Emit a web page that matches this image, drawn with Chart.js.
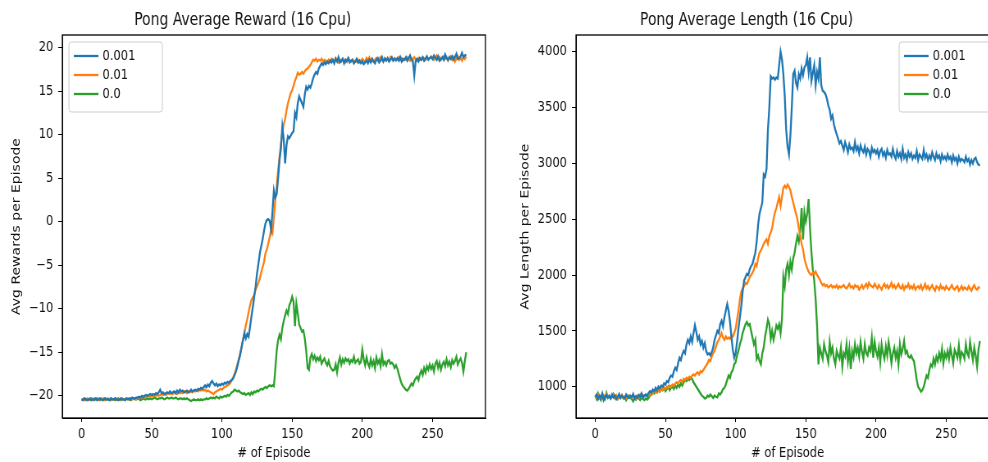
<!DOCTYPE html>
<html>
<head>
<meta charset="utf-8">
<script src="https://cdn.jsdelivr.net/npm/chart.js@4.4.0/dist/chart.umd.min.js"></script>
<style>
  html, body { margin: 0; padding: 0; background: #fff; overflow: hidden; width: 988px; height: 462px; }
  canvas { position: absolute; top: 0; transform-origin: 0 0; transform: scaleX(0.82); }
</style>
</head>
<body>
<canvas id="rewardChart" width="602" height="462" style="left:0"></canvas>
<canvas id="lengthChart" width="628" height="462" style="left:494px"></canvas>
<script>
// learning rates (legend labels)
const seriesLabels = ['0.001', '0.01', '0.0'];
const seriesColors = ['#1f77b4', '#ff7f0e', '#2ca02c'];

const episodes = Array.from({ length: 275 }, (_, i) => i);
const xTicks = [0, 50, 100, 150, 200, 250];
const rewardTicks = [-20, -15, -10, -5, 0, 5, 10, 15, 20];
const lengthTicks = [1000, 1500, 2000, 2500, 3000, 3500, 4000];

// Avg reward per episode
const reward001 = [
  -20.4,-20.5,-20.3,-20.4,-20.5,-20.4,-20.3,-20.5,-20.4,-20.4,-20.3,-20.5,-20.4,-20.3,-20.4,-20.5,-20.4,-20.3,-20.4,-20.4,-20.5,-20.3,-20.4,-20.4,-20.3,
  -20.4,-20.5,-20.4,-20.3,-20.4,-20.4,-20.5,-20.3,-20.4,-20.3,-20.4,-20.2,-20.3,-20.3,-20.2,-20.2,-20.1,-20.2,-20.0,-20.1,-20.0,-19.9,-20.0,-19.9,-19.8,
  -19.9,-19.8,-19.9,-19.7,-19.8,-19.6,-19.3,-19.7,-19.6,-19.8,-19.7,-19.6,-19.7,-19.5,-19.7,-19.6,-19.5,-19.7,-19.4,-19.6,-19.3,-19.5,-19.4,-19.6,-19.5,
  -19.4,-19.6,-19.5,-19.3,-19.5,-19.4,-19.3,-19.4,-19.2,-19.3,-19.1,-19.2,-19.0,-18.8,-19.0,-18.7,-18.9,-18.5,-18.3,-18.6,-18.8,-18.6,-18.9,-18.7,-18.8,
  -18.6,-18.7,-18.5,-18.6,-18.4,-18.5,-18.3,-18.2,-18.0,-17.6,-17.2,-16.6,-15.9,-15.3,-14.4,-13.6,-12.8,-13.4,-12.9,-13.2,-12.1,-10.9,-9.8,-8.6,-7.4,
  -5.9,-4.8,-3.6,-2.8,-2.0,-1.0,-0.2,0.2,0.3,0.1,-0.9,1.2,3.6,2.8,3.2,5.0,7.1,8.4,10.9,9.5,6.7,8.8,9.8,9.6,9.9,
  10.2,10.4,12.5,12.0,13.6,14.4,14.0,13.6,13.2,14.6,15.5,15.2,15.6,15.4,15.9,16.5,16.9,17.2,17.0,17.6,17.9,18.2,18.0,18.3,18.1,
  18.4,18.2,18.5,18.3,18.6,18.2,18.7,18.4,18.9,18.3,18.5,18.7,18.2,18.6,18.4,18.8,18.3,18.5,18.6,18.2,18.4,18.7,18.3,18.5,18.2,
  18.4,18.1,18.3,18.5,18.2,18.6,18.3,18.7,18.4,18.2,18.6,18.8,18.3,18.5,18.9,18.4,18.7,18.5,18.8,18.4,18.6,18.9,18.5,18.7,18.6,
  18.8,18.5,18.9,18.4,18.7,18.6,18.9,18.5,18.8,19.1,18.6,18.4,16.8,18.5,18.7,18.4,18.8,18.6,18.9,18.5,18.7,19.0,18.6,18.8,18.9,
  18.7,19.1,18.8,18.6,19.0,18.5,18.7,18.9,18.6,19.2,18.8,18.6,18.9,18.7,19.0,18.6,18.9,19.3,18.7,18.8,19.0,19.4,18.9,19.1,19.2
];
const reward01 = [
  -20.5,-20.4,-20.5,-20.4,-20.3,-20.5,-20.4,-20.4,-20.5,-20.3,-20.4,-20.4,-20.5,-20.4,-20.3,-20.4,-20.5,-20.4,-20.4,-20.3,-20.4,-20.5,-20.4,-20.4,-20.3,
  -20.4,-20.4,-20.5,-20.4,-20.3,-20.4,-20.4,-20.3,-20.4,-20.4,-20.3,-20.4,-20.3,-20.3,-20.4,-20.2,-20.3,-20.2,-20.2,-20.1,-20.2,-20.1,-20.1,-20.0,-20.1,
  -20.0,-20.1,-19.9,-20.0,-19.9,-20.0,-19.9,-19.8,-19.9,-19.8,-19.9,-19.8,-19.7,-19.8,-19.7,-19.8,-19.6,-19.7,-19.8,-19.6,-19.7,-19.6,-19.7,-19.5,-19.6,
  -19.7,-19.5,-19.6,-19.5,-19.6,-19.4,-19.5,-19.4,-19.5,-19.3,-19.4,-19.3,-19.4,-19.3,-19.5,-19.4,-19.5,-19.6,-19.7,-19.8,-19.6,-19.5,-19.4,-19.3,-19.2,
  -19.3,-19.1,-19.0,-18.9,-18.8,-18.7,-18.5,-18.2,-17.9,-17.5,-17.0,-16.4,-15.8,-15.1,-14.4,-13.6,-12.8,-11.9,-11.2,-10.4,-9.6,-9.0,-8.7,-8.4,-7.8,
  -7.4,-7.0,-6.5,-5.8,-5.2,-4.6,-3.6,-3.2,-2.5,-1.8,-0.9,-1.3,0.5,2.5,4.0,5.8,7.4,9.0,10.2,11.2,11.8,12.8,13.6,14.2,14.8,
  15.1,15.6,16.2,16.6,17.1,16.9,17.0,17.2,17.0,17.3,17.5,17.6,17.8,18.0,18.3,18.6,18.5,18.7,18.4,18.6,18.5,18.7,18.4,18.6,18.5,
  18.3,18.6,18.4,18.7,18.5,18.4,18.8,18.5,18.3,18.6,18.4,18.7,18.5,18.3,18.6,18.8,18.5,18.4,18.6,18.2,18.5,18.4,18.6,18.3,18.5,
  18.7,18.5,18.4,18.8,18.6,18.9,18.5,18.7,18.4,18.6,18.8,18.5,18.7,18.9,18.6,18.4,18.8,18.6,18.7,18.5,18.9,18.7,18.6,18.8,18.5,
  18.7,18.9,18.6,18.8,18.5,18.7,18.6,18.9,18.7,18.5,18.8,18.6,18.9,18.7,18.5,18.8,18.6,18.7,18.9,18.8,18.6,18.9,18.7,18.8,19.0,
  18.8,18.6,18.9,19.1,18.7,18.9,18.6,18.8,19.0,18.7,18.9,18.5,18.8,19.0,18.6,18.9,18.4,18.7,19.0,18.6,18.8,18.5,18.9,18.7,19.0
];
const reward0 = [
  -20.5,-20.4,-20.3,-20.5,-20.4,-20.4,-20.5,-20.3,-20.4,-20.5,-20.4,-20.3,-20.4,-20.5,-20.4,-20.4,-20.3,-20.5,-20.4,-20.4,-20.5,-20.3,-20.4,-20.4,-20.5,
  -20.4,-20.3,-20.4,-20.5,-20.4,-20.4,-20.5,-20.3,-20.4,-20.4,-20.5,-20.4,-20.3,-20.4,-20.4,-20.3,-20.4,-20.5,-20.4,-20.3,-20.4,-20.4,-20.3,-20.4,-20.3,
  -20.4,-20.3,-20.2,-20.3,-20.4,-20.3,-20.3,-20.2,-20.3,-20.4,-20.3,-20.2,-20.3,-20.3,-20.2,-20.3,-20.3,-20.2,-20.3,-20.4,-20.3,-20.3,-20.4,-20.3,-20.4,
  -20.3,-20.4,-20.5,-20.6,-20.5,-20.4,-20.5,-20.5,-20.4,-20.5,-20.4,-20.5,-20.4,-20.4,-20.3,-20.4,-20.3,-20.2,-20.3,-20.2,-20.3,-20.1,-20.2,-20.3,-20.1,
  -20.2,-20.1,-20.0,-20.1,-19.9,-20.0,-19.8,-19.6,-19.5,-19.3,-19.4,-19.5,-19.4,-19.6,-19.7,-19.8,-19.7,-19.9,-19.8,-19.7,-19.9,-19.6,-19.8,-19.5,-19.6,
  -19.4,-19.5,-19.3,-19.2,-19.3,-19.1,-19.0,-19.1,-18.9,-18.8,-18.9,-18.8,-18.9,-17.0,-14.8,-13.6,-13.0,-13.5,-12.2,-11.4,-10.8,-10.2,-10.6,-9.6,-9.2,
  -8.6,-9.2,-12.0,-9.4,-10.5,-11.8,-12.2,-12.6,-12.5,-13.4,-14.8,-16.8,-17.0,-15.6,-15.2,-15.8,-15.4,-16.0,-15.6,-15.9,-15.5,-16.3,-16.0,-15.7,-16.2,
  -16.5,-16.0,-16.6,-16.9,-17.1,-17.0,-16.4,-17.3,-16.2,-15.6,-16.4,-15.8,-16.2,-15.7,-16.0,-15.8,-16.3,-15.9,-16.1,-15.5,-16.2,-16.0,-15.8,-16.3,-16.1,
  -14.7,-15.8,-16.5,-15.6,-16.3,-16.7,-15.8,-16.5,-16.0,-16.8,-15.6,-16.3,-15.9,-16.6,-15.2,-16.4,-16.1,-16.5,-16.0,-15.9,-16.3,-16.2,-16.4,-16.8,-16.5,
  -16.9,-17.5,-18.1,-18.6,-18.9,-19.1,-19.3,-19.4,-19.2,-18.9,-18.6,-18.8,-18.3,-18.0,-17.8,-18.2,-17.5,-17.1,-17.6,-16.8,-17.3,-16.6,-17.0,-16.4,-16.9,
  -16.5,-17.2,-16.3,-16.0,-16.8,-16.2,-17.0,-16.4,-16.1,-16.6,-15.8,-16.5,-16.1,-16.7,-15.9,-16.3,-16.0,-15.5,-16.4,-16.0,-15.7,-16.2,-17.2,-16.0,-15.0
];

// Avg length per episode
const length001 = [
  910,930,890,920,900,940,880,910,925,900,915,895,930,905,920,890,910,935,900,920,905,895,930,910,900,
  920,905,935,895,915,900,925,910,940,905,920,930,915,945,960,950,975,960,990,970,1000,985,1010,1000,1030,
  1020,1050,1040,1080,1100,1090,1140,1170,1150,1210,1260,1240,1290,1320,1300,1380,1420,1390,1450,1400,1480,1550,1490,1420,1450,
  1380,1410,1350,1390,1320,1290,1300,1280,1310,1350,1420,1460,1500,1480,1560,1590,1540,1620,1680,1740,1680,1580,1450,1330,1260,
  1300,1400,1520,1620,1720,1850,1950,1980,2010,2000,2050,2080,2100,2150,2200,2300,2450,2550,2600,2650,2900,2880,2950,3300,3500,
  3780,3760,3770,3750,3770,3760,3880,4000,3930,3800,3600,3300,3150,3080,3250,3500,3800,3830,3720,3680,3800,3760,3850,3790,3860,
  3880,3950,3820,3950,3740,3810,3880,3700,3820,3760,3950,3700,3650,3640,3620,3580,3520,3480,3400,3430,3350,3300,3260,3220,3180,
  3200,3160,3120,3190,3150,3100,3170,3130,3140,3110,3190,3120,3150,3090,3160,3120,3100,3150,3080,3130,3110,3060,3140,3100,3120,
  3090,3120,3060,3110,3130,3070,3100,3050,3120,3080,3090,3060,3130,3070,3040,3110,3060,3090,3040,3130,3050,3080,3030,3100,3060,
  3090,3040,3070,3050,3110,3030,3080,3060,3040,3120,3050,3080,3030,3070,3040,3100,3060,3030,3090,3050,3070,3020,3080,3040,3060,
  3030,3080,3040,3060,3010,3070,3030,3050,3000,3060,3020,3040,3030,3010,3060,3020,3040,2990,3030,3000,3040,3050,3010,2990,2980
];
const length01 = [
  920,905,930,900,915,895,925,910,935,905,920,900,915,930,905,920,895,915,905,925,900,910,895,920,905,
  915,900,925,910,895,920,905,930,910,925,915,930,920,940,925,950,940,960,950,945,970,960,980,970,990,
  980,1000,990,1010,1000,1020,1010,1030,1040,1030,1050,1060,1040,1070,1060,1080,1070,1090,1080,1100,1110,1100,1120,1130,1110,
  1140,1130,1150,1170,1190,1210,1240,1230,1270,1300,1320,1360,1400,1420,1450,1480,1440,1420,1450,1430,1440,1430,1460,1450,1480,
  1520,1600,1680,1780,1850,1880,1900,1930,1920,1950,1980,2000,2020,2050,2100,2080,2150,2200,2220,2250,2280,2300,2320,2280,2350,
  2380,2420,2500,2560,2600,2650,2700,2620,2700,2780,2800,2780,2810,2790,2760,2700,2650,2600,2550,2500,2420,2350,2280,2230,2150,
  2100,2060,2030,2010,2000,2020,2010,2030,2000,1980,1960,1930,1910,1920,1900,1910,1890,1900,1910,1890,1900,1890,1910,1880,1900,
  1890,1900,1910,1890,1880,1900,1920,1890,1900,1880,1910,1895,1900,1870,1890,1910,1880,1900,1920,1890,1930,1910,1900,1890,1920,
  1900,1880,1910,1890,1870,1900,1920,1890,1910,1880,1900,1930,1890,1910,1880,1900,1920,1890,1880,1910,1870,1900,1890,1920,1880,
  1900,1880,1910,1870,1890,1900,1880,1910,1870,1890,1920,1880,1900,1870,1890,1910,1880,1860,1900,1890,1870,1910,1880,1890,1870,
  1900,1880,1870,1890,1910,1880,1870,1890,1900,1860,1880,1900,1870,1890,1880,1870,1900,1880,1860,1890,1910,1880,1870,1890,1885
];
const length0 = [
  920,890,940,900,880,930,910,890,945,905,920,895,910,935,900,920,890,910,900,925,895,910,880,905,920,
  900,890,870,900,885,910,895,880,900,890,880,895,885,900,920,930,950,940,960,950,970,955,980,970,990,
  960,980,1000,970,990,1000,980,1010,990,1020,1000,1030,1010,1040,1060,1050,1070,1060,1080,1070,1040,1020,1000,980,960,
  940,920,910,895,900,920,910,930,915,900,920,910,905,940,930,950,980,990,1020,1060,1100,1080,1130,1150,1200,
  1220,1280,1320,1380,1420,1480,1520,1560,1580,1550,1560,1500,1440,1380,1420,1250,1280,1230,1200,1300,1350,1450,1520,1600,1560,
  1430,1500,1420,1480,1550,1520,1560,1480,1600,1980,1900,2050,2100,2000,2120,2050,2150,2200,2280,2350,2300,2400,2600,2320,2560,
  2480,2550,2680,2420,2200,2050,1950,1780,1550,1200,1350,1300,1250,1380,1320,1280,1220,1400,1300,1350,1250,1200,1320,1280,1250,
  1350,1180,1300,1270,1380,1230,1340,1160,1320,1260,1380,1300,1350,1270,1400,1310,1250,1380,1300,1280,1350,1320,1440,1260,1400,
  1320,1270,1350,1220,1380,1300,1250,1360,1280,1400,1320,1210,1300,1350,1260,1320,1200,1380,1290,1340,1410,1300,1320,1270,1260,
  1280,1250,1230,1150,1060,1000,980,955,970,1000,1050,1100,1080,1150,1200,1180,1250,1200,1270,1230,1300,1250,1340,1210,1300,
  1260,1320,1250,1350,1280,1210,1330,1300,1260,1370,1240,1310,1290,1250,1380,1300,1270,1400,1320,1240,1350,1280,1180,1330,1410
];

Chart.defaults.font.family = '"DejaVu Sans", sans-serif';
Chart.defaults.color = '#111';

// matplotlib-style frame around the plot area
const framePlugin = {
  id: 'frame',
  afterDraw(chart) {
    const { ctx, chartArea: a } = chart;
    ctx.save();
    ctx.strokeStyle = '#000';
    ctx.lineWidth = 1.3;
    ctx.strokeRect(a.left, a.top, a.right - a.left, a.bottom - a.top);
    ctx.restore();
  }
};

// legend box drawn inside the axes
const innerLegend = {
  id: 'innerLegend',
  afterDatasetsDraw(chart, args, opts) {
    const { ctx, chartArea: a } = chart;
    const w = 114, h = 70;
    const x = opts.side === 'left' ? a.left + 8 : a.right - 8 - w;
    const y = a.top + 7;
    ctx.save();
    ctx.fillStyle = 'rgba(255,255,255,0.85)';
    ctx.strokeStyle = '#cccccc';
    ctx.lineWidth = 1;
    ctx.beginPath();
    ctx.roundRect(x, y, w, h, 3);
    ctx.fill();
    ctx.stroke();
    ctx.font = '14px "DejaVu Sans"';
    ctx.textBaseline = 'middle';
    chart.data.datasets.forEach((ds, i) => {
      const ry = y + 14 + i * 19;
      ctx.strokeStyle = ds.borderColor;
      ctx.lineWidth = 2.3;
      ctx.beginPath();
      ctx.moveTo(x + 6, ry);
      ctx.lineTo(x + 36, ry);
      ctx.stroke();
      ctx.fillStyle = '#111';
      ctx.fillText(ds.label, x + 41, ry);
    });
    ctx.restore();
  }
};

const fmt = v => (v < 0 ? '\u2212' + Math.abs(v) : String(v));

function makeChart(id, cfg) {
  return new Chart(document.getElementById(id), {
    type: 'line',
    data: {
      labels: episodes,
      datasets: cfg.series.map((d, i) => ({
        label: seriesLabels[i],
        data: d,
        borderColor: seriesColors[i],
        backgroundColor: seriesColors[i],
        borderWidth: 2.3,
        pointRadius: 0,
        tension: 0
      }))
    },
    plugins: [framePlugin, innerLegend],
    options: {
      responsive: false,
      animation: false,
      layout: { padding: { left: 0, right: cfg.rightPad, top: 0, bottom: 0 } },
      plugins: {
        legend: { display: false },
        tooltip: { enabled: false },
        title: {
          display: true,
          text: cfg.title,
          font: { size: 17, weight: 'normal' },
          color: '#111',
          padding: { top: 10, bottom: 4.6 }
        },
        innerLegend: { side: cfg.legendSide }
      },
      scales: {
        x: {
          type: 'linear',
          min: -13.7,
          max: 287.7,
          afterBuildTicks: s => { s.ticks = xTicks.map(v => ({ value: v })); },
          afterFit: s => { s.height = 44; },
          ticks: { font: { size: 14 }, color: '#111', padding: 4, maxRotation: 0 },
          grid: { drawOnChartArea: false, drawTicks: true, tickLength: 4, color: '#000' },
          border: { display: true, color: '#000' },
          title: { display: true, text: '# of Episode', font: { size: 14 }, color: '#111', padding: { top: 0, bottom: 0 } }
        },
        y: {
          min: cfg.yMin,
          max: cfg.yMax,
          afterBuildTicks: s => { s.ticks = cfg.yTicks.map(v => ({ value: v })); },
          afterFit: s => { s.width = cfg.yWidth; },
          ticks: { font: { size: 14 }, color: '#111', padding: 6, callback: fmt },
          grid: { drawOnChartArea: false, drawTicks: true, tickLength: 5, color: '#000' },
          border: { display: true, color: '#000' },
          title: { display: true, text: cfg.yTitle, font: { size: 14 }, color: '#111', padding: { top: cfg.yTitlePad, bottom: 0 } }
        }
      }
    }
  });
}

makeChart('rewardChart', {
  title: 'Pong Average Reward (16 Cpu)',
  yTitle: 'Avg Rewards per Episode',
  series: [reward001, reward01, reward0],
  yTicks: rewardTicks,
  yMin: -22.55, yMax: 21.45,
  yWidth: 76, yTitlePad: 12, rightPad: 10,
  legendSide: 'left'
});

makeChart('lengthChart', {
  title: 'Pong Average Length (16 Cpu)',
  yTitle: 'Avg Length per Episode',
  series: [length001, length01, length0],
  yTicks: lengthTicks,
  yMin: 720, yMax: 4150,
  yWidth: 100, yTitlePad: 30, rightPad: 12,
  legendSide: 'right'
});
</script>
</body>
</html>
